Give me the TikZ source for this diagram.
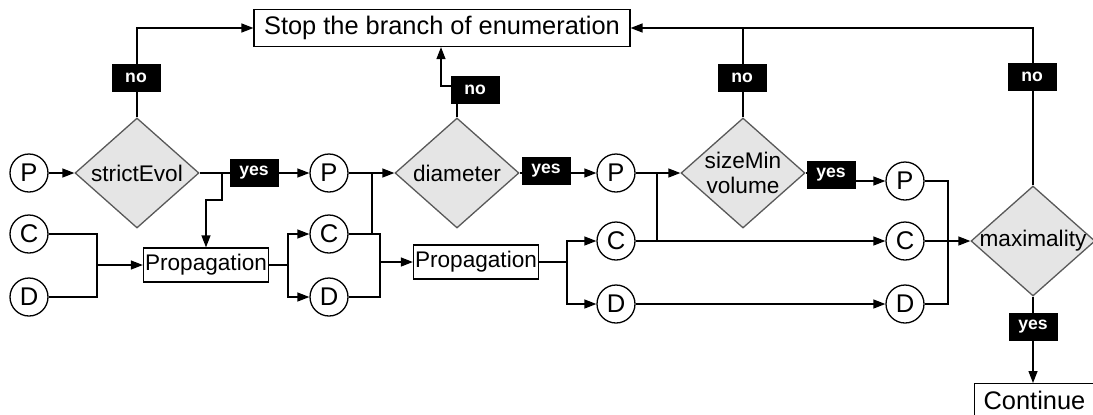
\documentclass[tikz,border=0pt]{standalone}
\usepackage{fontspec}
\setmainfont{Liberation Sans}
\usetikzlibrary{shapes.geometric,arrows.meta,positioning}

\tikzset{
  var/.style={draw, circle, minimum size=19pt, inner sep=0pt, fill=white, font=\fontsize{12.8}{14}\selectfont},
  test/.style={draw=black!65, fill=black!10, diamond, minimum width=62pt, minimum height=55pt, inner sep=0pt},
  testtxt/.style={font=\fontsize{11.3}{12.5}\selectfont, align=center, inner sep=0pt},
  proc/.style={draw, rectangle, minimum width=62.5pt, minimum height=17pt, inner sep=0.5pt, font=\fontsize{11.3}{13}\selectfont},
  bigbox/.style={draw, rectangle, minimum height=16.5pt, inner xsep=5pt, font=\fontsize{12.7}{15}\selectfont},
  tag/.style={fill=black, text=white, minimum width=24.5pt, minimum height=14pt, inner sep=0pt, font=\fontsize{8.8}{10}\selectfont\bfseries},
  flow/.style={-{Triangle[length=6pt,width=4.5pt]}},
}

\begin{document}
\begin{tikzpicture}[x=0.5pt, y=-0.5pt, line width=0.65pt]
  \useasboundingbox (0,0) rectangle (1093,414);

  % stop box
  \node[bigbox] (stop) at (442,28) {Stop the branch of enumeration};

  % first column
  \node[var] (p1) at (29,173) {P};
  \node[var] (c1) at (29,234) {C};
  \node[var] (d1) at (29,297) {D};
  \node[test, label={[testtxt]center:strictEvol}] (se) at (137,173) {};
  \node[proc] (pr1) at (206,265) {Propagation};

  % second column
  \node[var] (p2) at (329,173) {P};
  \node[var] (c2) at (329,234) {C};
  \node[var] (d2) at (329,297) {D};
  \node[test, label={[testtxt]center:diameter}] (dm) at (457,173) {};
  \node[proc] (pr2) at (476,262) {Propagation};

  % third column
  \node[var] (p3) at (616,173) {P};
  \node[var] (c3) at (616,241) {C};
  \node[var] (d3) at (616,304) {D};
  \node[test, label={[testtxt]center:{sizeMin\\volume}}] (sm) at (743,173) {};

  % last column
  \node[var] (p4) at (905,181) {P};
  \node[var] (c4) at (905,241) {C};
  \node[var] (d4) at (905,304) {D};
  \node[test, label={[testtxt]center:maximality}] (mx) at (1033,241) {};
  \node[bigbox, anchor=north west, inner xsep=4.5pt] (cont) at (974,383) {Continue};

  \coordinate (b1) at (222,173);
  \coordinate (j1) at (97,265);
  \coordinate (j2) at (288,265);
  \coordinate (m2) at (372,234);
  \coordinate (j3) at (380,262);
  \coordinate (k2) at (441,86);
  \coordinate (j4) at (567,262);
  \coordinate (m3) at (657,241);
  \coordinate (j5) at (948,241);

  % strictEvol
  \draw[flow] (p1) -- (se);
  \draw[flow] (se) -- (p2);
  \draw[flow] (b1) -- ++(0,27) -| (pr1);
  \draw (c1) -| (j1) |- (d1);
  \draw[flow] (j1) -- (pr1);
  \draw (pr1) -- (j2);
  \draw[flow] (j2) |- (c2);
  \draw[flow] (j2) |- (d2);
  \draw[flow] (se.north) |- (stop.west);

  % diameter
  \draw[flow] (p2) -- (dm);
  \draw (c2) -| (j3) |- (d2);
  \draw (m2) -- (m2 |- p2);
  \draw[flow] (j3) -- (pr2);
  \draw[flow] (dm) -- (p3);
  \draw[flow] (dm.north) |- (k2) -- (k2 |- stop.south);
  \draw (pr2) -- (j4);
  \draw[flow] (j4) |- (c3);
  \draw[flow] (j4) |- (d3);

  % sizeMin
  \draw[flow] (p3) -- (sm);
  \draw (m3) -- (m3 |- p3);
  \draw[flow] (c3) -- (c4);
  \draw[flow] (d3) -- (d4);
  \draw[flow] (sm.east) -- ++(33,0) |- (p4);
  \draw (sm.north) -- (sm.north |- stop.east);

  % maximality
  \draw (p4) -| (j5) |- (d4);
  \draw[flow] (c4) -- (mx);
  \draw[flow] (mx.north) |- (stop.east);
  \draw[flow] (mx.south) -- (mx.south |- cont.north);

  % yes / no tags
  \node[tag] (no1) at (136,78) {no};
  \node[tag] (no2) at (475,90) {no};
  \node[tag] (no3) at (742,78) {no};
  \node[tag] (no4) at (1032,77) {no};
  \node[tag] (yes1) at (254,173) {yes};
  \node[tag] (yes2) at (546,171) {yes};
  \node[tag] (yes3) at (831,175) {yes};
  \node[tag] (yes4) at (1033,327) {yes};
\end{tikzpicture}
\end{document}
